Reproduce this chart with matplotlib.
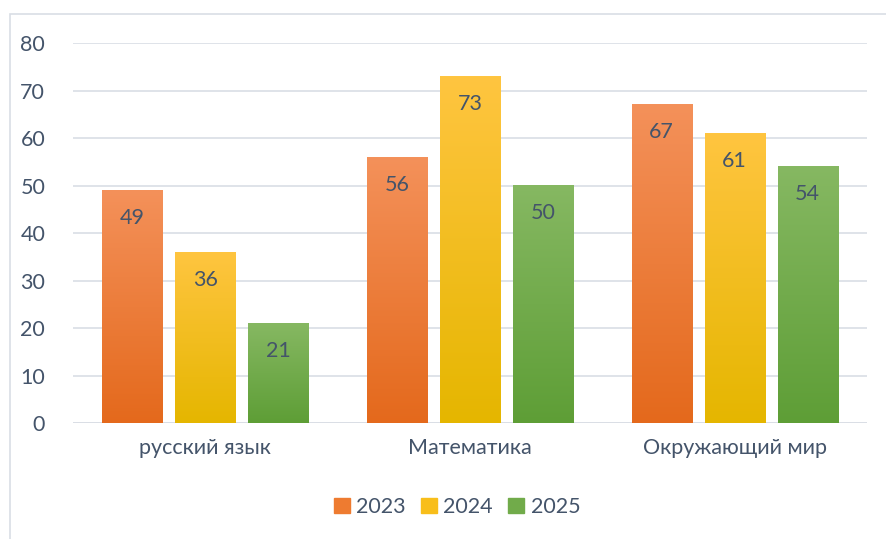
import numpy as np
import matplotlib.pyplot as plt
from matplotlib.patches import Rectangle
from matplotlib.colors import LinearSegmentedColormap

# data
categories = ['русский язык', 'Математика', 'Окружающий мир']
years = ['2023', '2024', '2025']
v2023 = [49, 56, 67]
v2024 = [36, 73, 61]
v2025 = [21, 50, 54]

# top / bottom gradient colours per series
grad = [('#F4915A', '#E4691C'), ('#FFC540', '#E5B600'), ('#86B862', '#5E9E36')]
mid = ['#EE7B30', '#F8BE1A', '#71AB4A']
txt = '#44546A'

plt.rcParams['font.family'] = ['Lato', 'DejaVu Sans']
fs = 15.5

fig = plt.figure(figsize=(8.86, 5.39), dpi=100)
ax = fig.add_axes([73 / 886, 1 - 423 / 539, 794 / 886, 380 / 539])

# outer chart border
fig.patches.append(Rectangle((10 / 886, -0.1), 1.0, 1 - 14 / 539 + 0.1,
                             transform=fig.transFigure, fill=False,
                             edgecolor='#D9DEE5', lw=1.2))

x = np.arange(len(categories))
w = 0.227
step = 0.276
series = [v2023, v2024, v2025]

for i, vals in enumerate(series):
    cmap = LinearSegmentedColormap.from_list('g%d' % i, [grad[i][1], grad[i][0]])
    bars = ax.bar(x + (i - 1) * step, vals, w, color='none', zorder=3)
    for b, v in zip(bars, vals):
        x0 = b.get_x()
        ax.imshow(np.linspace(0, 1, 256).reshape(-1, 1), cmap=cmap, origin='lower',
                  extent=[x0, x0 + w, 0, v], aspect='auto', zorder=3)
        ax.text(x0 + w / 2, v - 5.8, str(v), ha='center', va='center',
                fontsize=fs, color=txt, zorder=4)
ax.set_xlim(-0.5, 2.5)
ax.set_ylim(0, 80)

ax.set_yticks(range(0, 81, 10))
ax.yaxis.grid(True, color='#D9DEE5', lw=1.2, zorder=0)
ax.set_axisbelow(True)
for s in ax.spines.values():
    s.set_visible(False)
ax.tick_params(axis='both', length=0, labelsize=fs, labelcolor=txt)
ax.tick_params(axis='y', pad=20)
ax.tick_params(axis='x', pad=11)
ax.set_xticks(x)
ax.set_xticklabels(categories)
ax.axhline(0, color='#D9DEE5', lw=1.2, zorder=2)

handles = [Rectangle((0, 0), 1, 1, color=mid[i]) for i in range(3)]
fig.legend(handles, years, loc='center', bbox_to_anchor=(457 / 886, 1 - 507 / 539),
           ncol=3, frameon=False, fontsize=fs, labelcolor=txt,
           handlelength=0.75, handleheight=0.75, handletextpad=0.3, columnspacing=0.7)

fig.savefig('out.png', dpi=100)
